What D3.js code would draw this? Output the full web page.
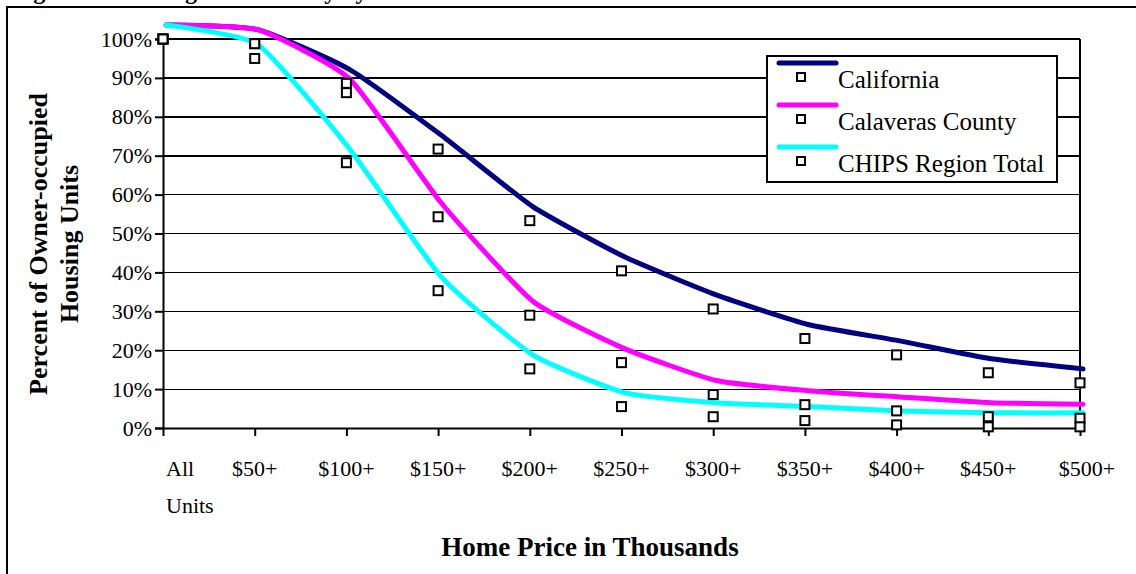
<!DOCTYPE html>
<html>
<head>
<meta charset="utf-8">
<script src="https://cdn.jsdelivr.net/npm/d3@7"></script>
<style>
  body { margin: 0; background: #fff; }
  svg { display: block; }
  text { font-family: "Liberation Serif", "Times New Roman", serif; fill: #000; }
</style>
</head>
<body>
<svg id="chart" width="1136" height="574"></svg>
<script>
// Price thresholds (thousands of dollars) and share of owner-occupied units at or above each.
const categories = ["All Units", "$50+", "$100+", "$150+", "$200+", "$250+", "$300+", "$350+", "$400+", "$450+", "$500+"];
const california = [100, 98.8, 88.6, 71.7, 53.3, 40.4, 30.6, 23.0, 18.8, 14.2, 11.6];
const calaveras  = [100, 98.8, 86.2, 54.3, 29.0, 16.8, 8.6, 6.0, 4.4, 2.9, 2.5];
const chipsRegion = [100, 95.0, 68.2, 35.3, 15.2, 5.5, 2.9, 1.9, 0.8, 0.3, 0.3];
const seriesNames = ["California", "Calaveras County", "CHIPS Region Total"];
const seriesColors = ["#000080", "#ff00ff", "#00ffff"];
const yTicks = [0, 10, 20, 30, 40, 50, 60, 70, 80, 90, 100];

const series = [california, calaveras, chipsRegion].map((values, i) => ({
  name: seriesNames[i], color: seriesColors[i], values
}));

const svg = d3.select("#chart");

// Plot area
const plot = { left: 163, right: 1080, top: 39, bottom: 428 };
const x = d3.scalePoint().domain(categories).range([plot.left, plot.right]);
const y = d3.scaleLinear().domain([0, 100]).range([plot.bottom, plot.top]);

// Outer frame of the figure (runs past the bottom and right edges)
svg.append("path")
  .attr("d", "M7,600V7H1150")
  .attr("fill", "none").attr("stroke", "#000").attr("stroke-width", 2);

// Figure caption, sitting just above the frame
svg.append("text")
  .attr("x", 12).attr("y", -1)
  .attr("font-size", 24).attr("font-weight", "bold")
  .text("Figure 3: Housing Affordability by Home Price");

// Horizontal gridlines
svg.append("g")
  .selectAll("line")
  .data(yTicks.filter(t => t > 0))
  .join("line")
  .attr("x1", plot.left).attr("x2", plot.right)
  .attr("y1", d => y(d)).attr("y2", d => y(d))
  .attr("stroke", "#000")
  .attr("stroke-width", d => d >= 70 ? 2 : 1)
  .attr("shape-rendering", "crispEdges");

// Right border of plot area
svg.append("line")
  .attr("x1", plot.right).attr("x2", plot.right)
  .attr("y1", plot.top).attr("y2", plot.bottom)
  .attr("stroke", "#000").attr("stroke-width", 2);

// Y axis
const yAxis = d3.axisLeft(y).tickValues(yTicks).tickFormat(d => d + "%").tickSize(8).tickPadding(3);
const gy = svg.append("g").attr("transform", `translate(${plot.left},0)`).call(yAxis);
gy.select(".domain").attr("stroke-width", 2);
gy.selectAll(".tick line").attr("stroke-width", 2);
gy.selectAll(".tick text")
  .attr("font-family", '"Liberation Serif", "Times New Roman", serif')
  .attr("font-size", 22).attr("fill", "#000");

// X axis
const xAxis = d3.axisBottom(x).tickSize(8).tickSizeOuter(0).tickFormat("");
const gx = svg.append("g").attr("transform", `translate(0,${plot.bottom})`).call(xAxis);
gx.select(".domain").attr("stroke-width", 2);
gx.selectAll(".tick line").attr("stroke-width", 2);

// X tick labels (first one wraps onto two lines)
const xl = svg.append("g").attr("font-size", 22);
categories.forEach((c, i) => {
  if (i === 0) {
    const words = c.split(" ");
    const t = xl.append("text").attr("x", x(c) + 3).attr("y", 476).attr("text-anchor", "start");
    t.append("tspan").attr("x", x(c) + 3).text(words[0]);
    t.append("tspan").attr("x", x(c) + 3).attr("dy", 37).text(words[1]);
  } else {
    xl.append("text")
      .attr("x", x(c) + (i === categories.length - 1 ? 7 : 0))
      .attr("y", 476)
      .attr("text-anchor", "middle")
      .text(c);
  }
});

// Axis titles
svg.append("text")
  .attr("x", 590).attr("y", 556)
  .attr("text-anchor", "middle")
  .attr("font-size", 27).attr("font-weight", "bold")
  .text("Home Price in Thousands");

const yt = svg.append("text")
  .attr("transform", "translate(47,244) rotate(-90)")
  .attr("text-anchor", "middle")
  .attr("font-size", 26).attr("font-weight", "bold");
yt.append("tspan").attr("x", 0).attr("y", 0).text("Percent of Owner-occupied");
yt.append("tspan").attr("x", 0).attr("dy", 31).text("Housing Units");

// Smoothed series lines, drawn slightly offset from their markers
const lineShift = { dx: 3, dy: -14 };
const line = d3.line()
  .x((d, i) => x(categories[i]))
  .y(d => y(d))
  .curve(d3.curveCardinal.tension(0.5));

svg.append("g")
  .attr("transform", `translate(${lineShift.dx},${lineShift.dy})`)
  .selectAll("path")
  .data(series)
  .join("path")
  .attr("d", d => line(d.values))
  .attr("fill", "none")
  .attr("stroke", d => d.color)
  .attr("stroke-width", 5)
  .attr("stroke-linecap", "round")
  .attr("stroke-linejoin", "round");

// Square markers
const markerSize = 9;
svg.append("g")
  .selectAll("g")
  .data(series)
  .join("g")
  .selectAll("rect")
  .data(d => d.values.map((v, i) => ({ v, c: categories[i] })))
  .join("rect")
  .attr("x", d => x(d.c) - markerSize / 2)
  .attr("y", d => y(d.v) - markerSize / 2)
  .attr("width", markerSize).attr("height", markerSize)
  .attr("fill", "#fff")
  .attr("stroke", "#000")
  .attr("stroke-width", 2);

// Legend
const legend = svg.append("g").attr("transform", "translate(767,56)");
legend.append("rect")
  .attr("width", 290).attr("height", 126)
  .attr("fill", "#fff").attr("stroke", "#000").attr("stroke-width", 2);
series.forEach((s, i) => {
  const g = legend.append("g").attr("transform", `translate(0,${7 + i * 42})`);
  g.append("line")
    .attr("x1", 12).attr("x2", 69).attr("y1", 0).attr("y2", 0)
    .attr("stroke", s.color).attr("stroke-width", 5).attr("stroke-linecap", "round");
  g.append("rect")
    .attr("x", 34 - 4).attr("y", 14 - 4)
    .attr("width", 8).attr("height", 8)
    .attr("fill", "#fff").attr("stroke", "#000").attr("stroke-width", 2);
  g.append("text")
    .attr("x", 71).attr("y", 25)
    .attr("font-size", 25)
    .text(s.name);
});
</script>
</body>
</html>
